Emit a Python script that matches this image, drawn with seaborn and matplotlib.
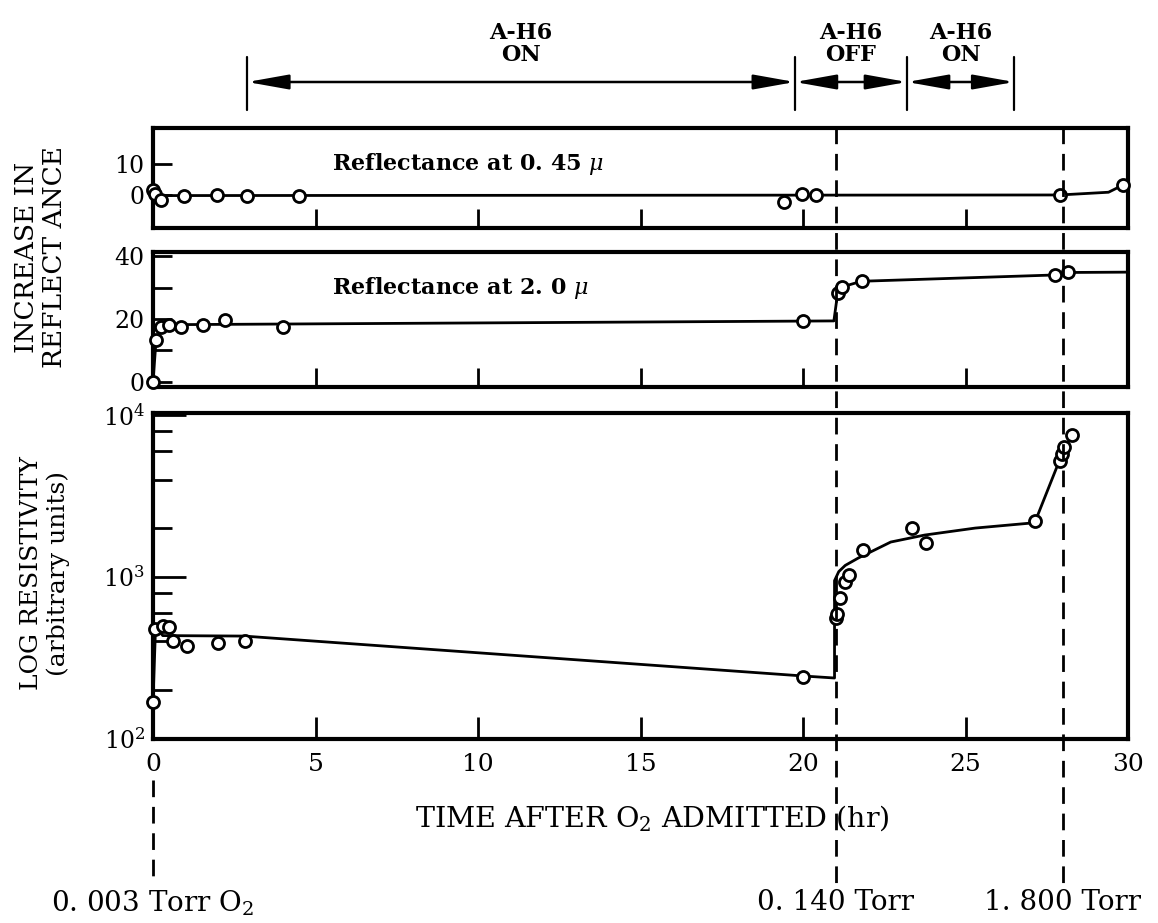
import matplotlib
matplotlib.use("Agg")
import matplotlib.pyplot as plt
import matplotlib.transforms as mtransforms
from matplotlib.ticker import FixedLocator, NullFormatter, LogFormatterMathtext
import pandas as pd
import seaborn as sns

# ---- reflectance increase at 0.45 micron ----
r045_hours = [0.0, 0.05, 0.25, 0.95, 1.96, 2.9, 4.5, 19.4, 19.97, 20.4, 27.9, 29.85]
r045_values = [1.5, 0.3, -1.6, -0.3, 0.0, -0.6, -0.5, -2.3, 0.1, -0.2, -0.1, 3.2]
r045_fit_hours = [0.0, 27.9, 29.4, 29.85]
r045_fit_values = [-0.3, -0.1, 0.8, 3.2]

# ---- reflectance increase at 2.0 micron ----
r20_hours = [0.0, 0.1, 0.25, 0.5, 0.86, 1.53, 2.2, 4.0, 20.0, 21.07, 21.2, 21.8, 27.75, 28.15]
r20_values = [0.0, 13.3, 17.5, 18.1, 17.5, 18.1, 19.7, 17.5, 19.4, 28.3, 30.2, 32.1, 34.0, 34.9]
r20_fit_hours = [0.0, 0.1, 0.4, 20.95, 21.05, 21.3, 21.8, 27.75, 28.3, 30.0]
r20_fit_values = [0.0, 14.0, 18.2, 19.4, 27.0, 30.5, 32.0, 34.0, 34.8, 34.9]

# ---- resistivity (arbitrary units) ----
rho_hours = [0.0, 0.06, 0.3, 0.5, 0.6, 1.04, 2.0, 2.82, 20.0, 21.0, 21.04, 21.13,
             21.3, 21.4, 21.84, 23.34, 23.77, 27.15, 27.9, 27.98, 28.04, 28.28]
rho_values = [169, 477, 500, 490, 403, 375, 391, 403, 241, 558, 591, 741,
              931, 1029, 1468, 2006, 1622, 2217, 5200, 5745, 6345, 7530]
rho_fit_hours = [0.0, 0.08, 0.3, 2.8, 20.0, 20.97, 20.97, 21.1, 21.3, 21.7, 22.7,
                 23.74, 25.3, 27.0, 27.15, 27.9, 28.3]
rho_fit_values = [169, 500, 435, 432, 245, 238, 950, 1080, 1180, 1310, 1645,
                  1816, 2006, 2153, 2217, 5300, 7800]

# ---- lamp schedule and O2 pressure steps ----
phase_bounds = [2.9, 19.75, 23.2, 26.5]
phase_labels = ["A-H6\nON", "A-H6\nOFF", "A-H6\nON"]
pressure_hours = [0.0, 21.0, 28.0]
pressure_labels = ["0. 003 Torr O$_2$", "0. 140 Torr", "1. 800 Torr"]

x_ticks = [0, 5, 10, 15, 20, 25, 30]
inner_x_ticks = [5, 10, 15, 20, 25]

sns.set_theme(style="ticks")
plt.rcParams["font.family"] = ["DejaVu Serif"]
plt.rcParams["mathtext.fontset"] = "dejavuserif"
plt.rcParams["axes.linewidth"] = 3.0

W, H = 1158, 923
fig = plt.figure(figsize=(W / 100, H / 100), dpi=100)


def frame(top, bottom, left=153, right=1128):
    return [left / W, 1 - bottom / H, (right - left) / W, (bottom - top) / H]


ax1 = fig.add_axes(frame(128, 228))
ax2 = fig.add_axes(frame(252, 387))
ax3 = fig.add_axes(frame(413, 739))

point_style = dict(marker="o", s=75, facecolor="white", edgecolor="black",
                   linewidth=2.0, zorder=5, legend=False, clip_on=False)
line_style = dict(color="black", linewidth=2.0, estimator=None, sort=False,
                  legend=False, zorder=3)

panels = [
    (ax1, r045_hours, r045_values, r045_fit_hours, r045_fit_values),
    (ax2, r20_hours, r20_values, r20_fit_hours, r20_fit_values),
    (ax3, rho_hours, rho_values, rho_fit_hours, rho_fit_values),
]
for ax, hx, hy, fx, fy in panels:
    fit = pd.DataFrame({"hours": fx, "value": fy})
    pts = pd.DataFrame({"hours": hx, "value": hy})
    sns.lineplot(data=fit, x="hours", y="value", ax=ax, **line_style)
    sns.scatterplot(data=pts, x="hours", y="value", ax=ax, **point_style)
    ax.set_xlim(0, 30)
    ax.set_xlabel("")
    ax.set_ylabel("")
    for side in ["top", "right", "bottom", "left"]:
        ax.spines[side].set_visible(True)
        ax.spines[side].set_linewidth(3.0)
        ax.spines[side].set_color("black")
    ax.tick_params(axis="both", which="both", direction="in", width=2.0,
                   colors="black", labelsize=17, pad=6)
    ax.tick_params(axis="both", which="major", length=14)
    ax.tick_params(axis="both", which="minor", length=14)
    ax.set_facecolor("white")

# reflectance panels
ax1.set_ylim(-11, 22)
ax1.set_yticks([0, 10])
ax1.set_yticklabels(["0", "10"])
ax2.set_ylim(-1.6, 41.3)
ax2.yaxis.set_major_locator(FixedLocator([0, 10, 20, 30, 40]))
ax2.set_yticklabels(["0", "", "20", "", "40"])
for ax in (ax1, ax2):
    ax.set_xticks(inner_x_ticks)
    ax.set_xticklabels([])

ax1.text(5.5, 10, r"Reflectance at 0. 45 $\mu$", fontsize=16, fontweight="bold",
         ha="left", va="center", color="black")
ax2.text(5.5, 30, r"Reflectance at 2. 0 $\mu$", fontsize=16, fontweight="bold",
         ha="left", va="center", color="black")

# resistivity panel (log scale)
ax3.set_yscale("log")
ax3.set_ylim(100, 10300)
ax3.yaxis.set_major_locator(FixedLocator([100, 1000, 10000]))
ax3.yaxis.set_major_formatter(LogFormatterMathtext())
ax3.yaxis.set_minor_locator(FixedLocator([200, 400, 600, 800, 2000, 4000, 6000, 8000]))
ax3.yaxis.set_minor_formatter(NullFormatter())
ax3.tick_params(axis="y", which="major", length=24)
ax3.set_xticks(x_ticks)
ax3.set_xticklabels([str(t) for t in x_ticks])
ax3.tick_params(axis="x", which="major", length=16, pad=10, labelsize=18)

# vertical dashed pressure markers running through all panels
vtrans = mtransforms.blended_transform_factory(ax3.transData, fig.transFigure)
for h in pressure_hours:
    y_top = 1 - 127 / H if h > 0 else 1 - 780 / H
    ax3.plot([h, h], [y_top, 1 - 885 / H], transform=vtrans, color="black",
             linewidth=2.0, linestyle=(0, (6, 3.5)), clip_on=False, zorder=6)
for h, lab in zip(pressure_hours, pressure_labels):
    ax3.text(h, 1 - 903 / H, lab, transform=vtrans, ha="center", va="center",
             fontsize=20, color="black")

# lamp schedule arrows above the panels
y_arrow = 1 - 82 / H
for b in phase_bounds:
    ax3.plot([b, b], [1 - 57 / H, 1 - 110 / H], transform=vtrans, color="black",
             linewidth=1.6, clip_on=False)
for b0, b1, lab in zip(phase_bounds[:-1], phase_bounds[1:], phase_labels):
    ax3.annotate("", xy=(b0, y_arrow), xytext=(b1, y_arrow), xycoords=vtrans,
                 textcoords=vtrans,
                 arrowprops=dict(arrowstyle="<|-|>,head_length=1.4,head_width=0.25",
                                 mutation_scale=18, color="black", linewidth=1.8,
                                 shrinkA=0, shrinkB=0))
    ax3.text((b0 + b1) / 2, 1 - 44 / H, lab, transform=vtrans, ha="center",
             va="center", fontsize=16, fontweight="bold", linespacing=1.05,
             multialignment="center", color="black")

# axis titles
fig.text(41 / W, 1 - 257 / H, "INCREASE IN\nREFLECT ANCE", rotation=90,
         ha="center", va="center", fontsize=19, linespacing=1.15,
         multialignment="center", color="black")
fig.text(45 / W, 1 - 573 / H, "LOG RESISTIVITY\n(arbitrary units)", rotation=90,
         ha="center", va="center", fontsize=18, linespacing=1.2,
         multialignment="center", color="black")
fig.text(652 / W, 1 - 818 / H, "TIME AFTER O$_2$ ADMITTED (hr)", ha="center",
         va="center", fontsize=20.5, color="black")

fig.savefig("out.png", dpi=100, facecolor="white")
